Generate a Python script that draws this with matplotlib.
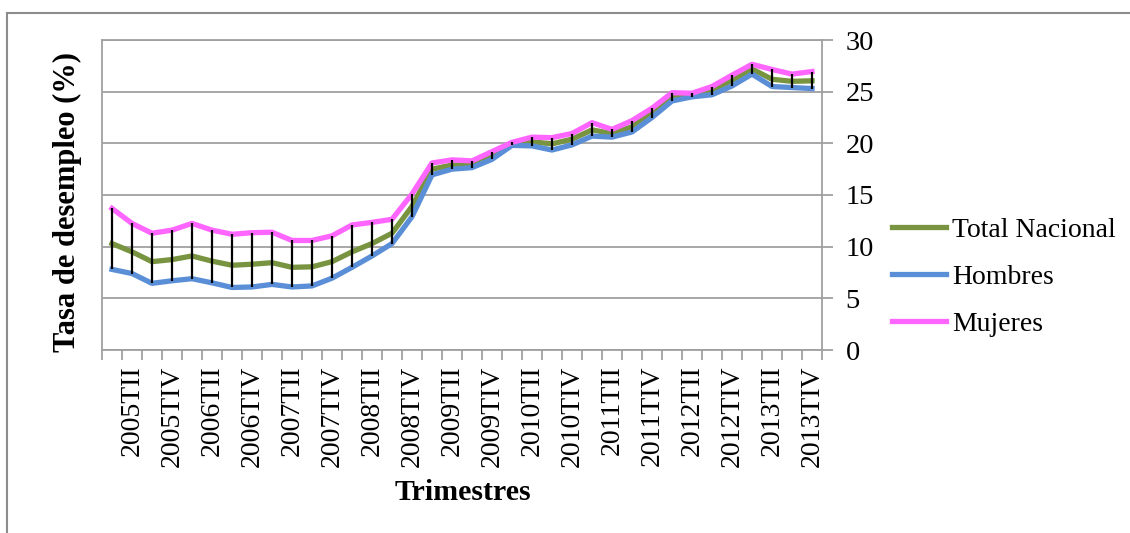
import numpy as np
import matplotlib.pyplot as plt
from matplotlib.lines import Line2D

plt.rcParams['font.family'] = ['Liberation Serif', 'DejaVu Serif']

years = range(2005, 2014)
trimestres = [f"{y}T{q}" for y in years for q in ["I", "II", "III", "IV"]]

total = [10.3, 9.5, 8.55, 8.75, 9.1, 8.6, 8.2, 8.3, 8.45, 8.0, 8.05, 8.55,
         9.5, 10.3, 11.3, 13.9, 17.5, 17.9, 17.9, 18.8, 19.95, 20.15, 19.95, 20.4,
         21.3, 20.95, 21.6, 22.95, 24.5, 24.75, 25.15, 26.1, 27.2, 26.2, 26.0, 26.05]
hombres = [7.8, 7.4, 6.45, 6.7, 6.9, 6.5, 6.05, 6.1, 6.35, 6.1, 6.2, 6.95,
           8.0, 9.1, 10.3, 12.9, 16.95, 17.5, 17.65, 18.45, 19.8, 19.75, 19.35, 19.85,
           20.7, 20.6, 21.1, 22.5, 24.1, 24.5, 24.7, 25.55, 26.7, 25.5, 25.4, 25.3]
mujeres = [13.7, 12.25, 11.3, 11.6, 12.25, 11.6, 11.2, 11.35, 11.4, 10.6, 10.6, 11.05,
           12.1, 12.35, 12.65, 15.1, 18.1, 18.4, 18.3, 19.2, 20.1, 20.6, 20.55, 20.95,
           22.0, 21.35, 22.2, 23.4, 24.9, 24.85, 25.5, 26.6, 27.65, 27.15, 26.7, 26.95]

verde = '#789440'
azul = '#5a8fd8'
rosa = '#ff66ff'
gris = '#a0a0a0'

W, H = 1130, 533
fig = plt.figure(figsize=(W / 100, H / 100), dpi=100)
ax = fig.add_axes([102 / W, 1 - 350 / H, 720 / W, 310 / H])

x = np.arange(len(trimestres))
ax.plot(x, total, color=verde, lw=3.8, label='Total Nacional', zorder=3)
ax.plot(x, hombres, color=azul, lw=3.8, label='Hombres', zorder=3)
ax.plot(x, mujeres, color=rosa, lw=3.8, label='Mujeres', zorder=3)
ax.vlines(x, hombres, mujeres, color='black', lw=1.6, zorder=4)

ax.set_xlim(-0.5, len(trimestres) - 0.5)
ax.set_ylim(0, 30)

ax.yaxis.tick_right()
ax.set_yticks(range(0, 31, 5))
ax.grid(axis='y', color=gris, lw=1.3, zorder=0)
ax.tick_params(axis='y', length=8, width=1.3, color=gris, pad=9, labelsize=20.5)

ax.set_xticks(x[1::2])
ax.set_xticklabels(trimestres[1::2], rotation=90, fontsize=20)
ax.set_xticks(np.arange(-0.5, len(trimestres)), minor=True)
ax.tick_params(axis='x', which='major', length=0, pad=11)
ax.tick_params(axis='x', which='minor', length=7, width=1.3, color=gris)

for s in ax.spines.values():
    s.set_color(gris)
    s.set_linewidth(1.3)

fig.text(67 / W, 1 - 202 / H, 'Tasa de desempleo (%)', rotation=90,
         ha='center', va='center', fontsize=22, fontweight='bold')
fig.text(463 / W, 1 - 492 / H, 'Trimestres', ha='center', va='center',
         fontsize=21.5, fontweight='bold')

fig.legend(loc='center left', bbox_to_anchor=(892 / W, 1 - 277 / H),
           frameon=False, fontsize=20, handlelength=1.95, handletextpad=0.2,
           labelspacing=0.78, borderpad=0, borderaxespad=0)

# marco exterior
fig.add_artist(Line2D([7 / W, 7 / W], [0, 1 - 13 / H], transform=fig.transFigure,
                      color='#8c8c8c', lw=1.5))
fig.add_artist(Line2D([7 / W, 1], [1 - 13 / H, 1 - 13 / H], transform=fig.transFigure,
                      color='#8c8c8c', lw=1.5))

fig.savefig('out.png', dpi=100)
